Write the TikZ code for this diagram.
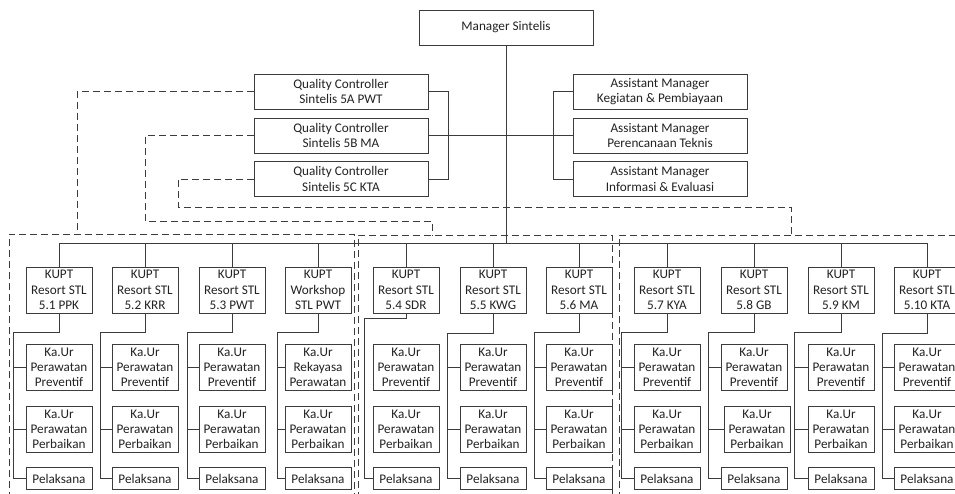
\documentclass[tikz,border=0pt]{standalone}
\usepackage{fontspec}
\setmainfont{Carlito}
\definecolor{linecol}{RGB}{60,60,60}
\definecolor{textcol}{RGB}{35,35,35}
\tikzset{
  conn/.style={draw=linecol, line width=0.9pt},
  dsh/.style={draw=linecol, line width=0.9pt, dash pattern=on 7pt off 4pt},
  bx/.style={draw=linecol, line width=0.9pt, fill=white, align=center, inner sep=0pt, text=textcol, font=\fontsize{13.2}{15.2}\selectfont},
  topbox/.style={bx, minimum width=174pt, minimum height=35pt},
  kuptbox/.style={bx, minimum width=66pt, minimum height=46pt},
  kaurbox/.style={bx, minimum width=66pt, minimum height=46pt},
  pelbox/.style={bx, minimum width=66pt, minimum height=22pt},
}
\begin{document}
\begin{tikzpicture}[x=1pt,y=-1pt]
\useasboundingbox (0,0) rectangle (955,494);
\clip (0,0) rectangle (955,494);
\fill[white] (0,0) rectangle (955,494);

% group frames
\draw[dsh] (9,510) -- (9,234) -- (354,234) -- (354,510);
\draw[dsh] (358,510) -- (358,235) -- (612,235) -- (612,510);
\draw[dsh] (619,510) -- (619,235) -- (970,235);

% top level
\node[topbox] (mgr) at (506,27.5) {Manager Sintelis};
\node[topbox] (qc1) at (341,91.5) {Quality Controller\\Sintelis 5A PWT};
\node[topbox] (qc2) at (341,135.5) {Quality Controller\\Sintelis 5B MA};
\node[topbox] (qc3) at (341,179) {Quality Controller\\Sintelis 5C KTA};
\node[topbox] (am1) at (660,91.5) {Assistant Manager\\Kegiatan \& Pembiayaan};
\node[topbox] (am2) at (660,135.5) {Assistant Manager\\Perencanaan Teknis};
\node[topbox] (am3) at (660,179) {Assistant Manager\\Informasi \& Evaluasi};

% KUPT
\node[kuptbox] (k1) at (59,290) {KUPT\\Resort STL\\5.1 PPK};
\node[kuptbox] (k2) at (145,290) {KUPT\\Resort STL\\5.2 KRR};
\node[kuptbox] (k3) at (232,290) {KUPT\\Resort STL\\5.3 PWT};
\node[kuptbox] (k4) at (318,290) {KUPT\\Workshop\\STL PWT};
\node[kuptbox] (k5) at (406,290) {KUPT\\Resort STL\\5.4 SDR};
\node[kuptbox] (k6) at (493,290) {KUPT\\Resort STL\\5.5 KWG};
\node[kuptbox] (k7) at (579,290) {KUPT\\Resort STL\\5.6 MA};
\node[kuptbox] (k8) at (667,290) {KUPT\\Resort STL\\5.7 KYA};
\node[kuptbox] (k9) at (754,290) {KUPT\\Resort STL\\5.8 GB};
\node[kuptbox] (k10) at (841,290) {KUPT\\Resort STL\\5.9 KM};
\node[kuptbox] (k11) at (927,290) {KUPT\\Resort STL\\5.10 KTA};

% Ka.Ur preventif
\foreach \i/\cx in {1/59,2/145,3/232,5/406,6/493,7/579,8/667,9/754,10/841,11/927}{
  \node[kaurbox] (a\i) at (\cx,367.5) {Ka.Ur\\Perawatan\\Preventif};
}
\node[kaurbox] (a4) at (318,367.5) {Ka.Ur\\Rekayasa\\Perawatan};

% Ka.Ur perbaikan and Pelaksana
\foreach \i/\cx in {1/59,2/145,3/232,4/318,5/406,6/493,7/579,8/667,9/757,10/841,11/927}{
  \node[kaurbox] (b\i) at (\cx,429.5) {Ka.Ur\\Perawatan\\Perbaikan};
}
\foreach \i/\cx in {1/59,2/145,3/232,4/318,5/406,6/493,7/579,8/667,9/754,10/841,11/927}{
  \node[pelbox] (l\i) at (\cx,478.5) {Pelaksana};
}

% solid connectors top
\coordinate (qcb) at (448,135.5);
\coordinate (amb) at (553,135.5);
\draw[conn] (qc1.east) -| (qcb |- qc3.east) -- (qc3.east);
\draw[conn] (am1.west) -| (amb |- am3.west) -- (am3.west);
\draw[conn] (qc2.east) -- (am2.west);
\coordinate (bus) at (506,243);
\draw[conn] (mgr.south) -- (bus);
\draw[conn] (k1.north |- bus) -- (k11.north |- bus);
\foreach \i in {1,...,11}{
  \draw[conn] (k\i.north) -- (k\i.north |- bus);
}

% column connectors
\foreach \i/\r/\e in {1/13/332,2/100/332,3/187/332,4/277/332,5/364/318,6/447/333,7/534/332,8/621/332,9/708/332,10/794/332,11/882/333}{
  \coordinate (r\i) at (\r,\e);
  \draw[conn] (k\i.south) |- (r\i) |- (l\i.west);
}
\foreach \i in {1,2,3,4,6,7,8,9,10,11}{
  \draw[conn] (r\i |- a\i.west) -- (a\i.west);
  \draw[conn] (r\i |- b\i.west) -- (b\i.west);
}

% dashed QC links
\coordinate (d1) at (77,234);
\coordinate (d2a) at (145,221);
\coordinate (d2) at (432,235);
\coordinate (d3a) at (178,207);
\coordinate (d3) at (791,235);
\draw[dsh] (qc1.west) -| (d1);
\draw[dsh] (qc2.west) -| (d2a) -| (d2);
\draw[dsh] (qc3.west) -| (d3a) -| (d3);
\end{tikzpicture}
\end{document}
